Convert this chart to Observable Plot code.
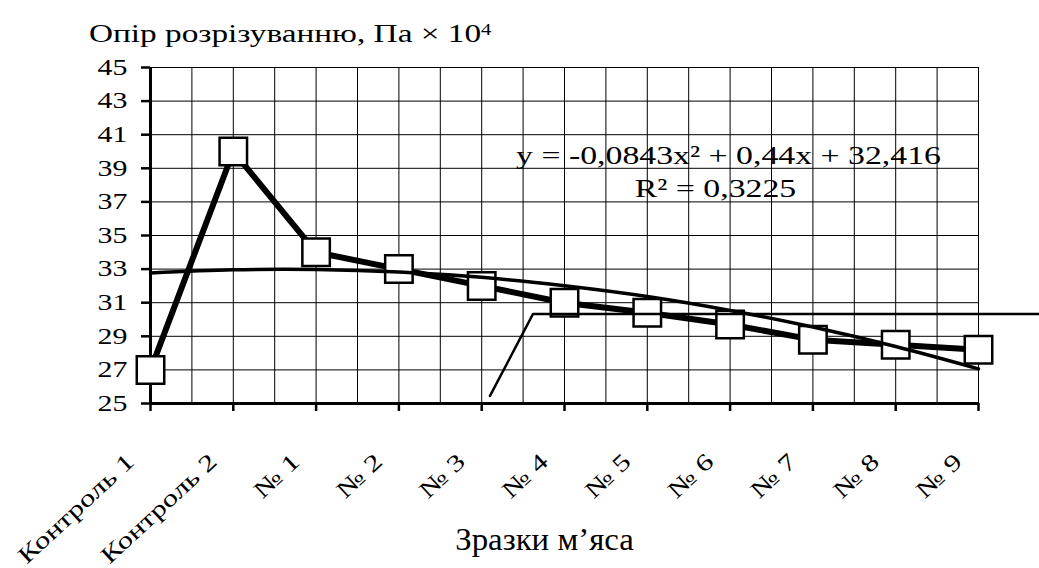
<!DOCTYPE html>
<html><head><meta charset="utf-8">
<script src="https://cdn.jsdelivr.net/npm/d3@7"></script>
<script src="https://cdn.jsdelivr.net/npm/@observablehq/plot@0.6"></script>
<style>
html,body{margin:0;padding:0;background:#fff;}
body{width:1039px;height:568px;overflow:hidden;position:relative;font-family:"Liberation Serif","Times New Roman",serif;color:#000;}
#title{position:absolute;left:89px;top:21px;font-family:"Liberation Serif",serif;font-size:26px;line-height:26px;transform:scaleX(1.28);transform-origin:left top;white-space:nowrap;}
#title sup{font-size:16px;position:relative;top:-4px;vertical-align:top;}
#chart{position:absolute;left:0;top:52px;}
#chart svg{overflow:visible;}
</style></head><body>
<div id="title">Опір розрізуванню, Па × 10<sup>4</sup></div>
<div id="chart"></div>
<script>
// ---- data ----
const categories = ["Контроль 1","Контроль 2","№ 1","№ 2","№ 3","№ 4","№ 5","№ 6","№ 7","№ 8","№ 9"];
const values = [27, 40, 34, 33, 32, 31, 30.4, 29.7, 28.8, 28.5, 28.2];
// polynomial trend line
const trendValues = [32.77, 32.96, 32.98, 32.83, 32.51, 32.01, 31.37, 30.54, 29.55, 28.39, 27.06];
const yTicks = [25, 27, 29, 31, 33, 35, 37, 39, 41, 43, 45];
const equationLine1 = ["y = -0,0843x² + 0,44x + 32,416"];
const equationLine2 = ["R² = 0,3225"];
const xAxisLabel = ["Зразки м’яса"];
// stray leader line drawn on the original chart (category index, value)
const leaderX = [5.1, 5.62, 11.75];
const leaderY = [25.45, 30.33, 30.33];

const series = categories.map((c, i) => ({x: i + 1, cat: c, v: values[i], t: trendValues[i]}));
const leader = leaderX.map((x, i) => ({x, y: leaderY[i]}));
const gridXTicks = d3.range(1, 11.01, 0.5);
const idx = categories.map((_, i) => i + 1);
const serif = "'Liberation Serif','Times New Roman',serif";

const plot = Plot.plot({
  width: 1039, height: 516,
  marginLeft: 150, marginRight: 61, marginTop: 15, marginBottom: 165,
  style: {fontFamily: serif, background: "white", color: "black", overflow: "visible"},
  x: {type: "linear", domain: [1, 11], label: null},
  y: {domain: [25, 45], label: null},
  marks: [
    Plot.gridY(yTicks, {stroke: "black", strokeOpacity: 1, strokeWidth: 1}),
    Plot.gridX(gridXTicks, {stroke: "black", strokeOpacity: 1, strokeWidth: 1}),
    Plot.ruleX([1], {stroke: "black", strokeWidth: 3}),
    Plot.ruleY([25], {stroke: "black", strokeWidth: 3}),
    Plot.axisY(yTicks, {tickSize: 9, tickPadding: 14, fontSize: 23, fontFamily: serif, strokeWidth: 2.5, label: null}),
    Plot.axisX(idx, {tickSize: 8, tickFormat: () => "", strokeWidth: 2.5, label: null}),
    Plot.text(series, {x: "x", text: "cat", frameAnchor: "bottom", rotate: -43, textAnchor: "end", lineAnchor: "bottom", dx: -15, dy: 60, fontSize: 23.5, fontFamily: serif}),
    Plot.text(xAxisLabel, {frameAnchor: "bottom", dx: -20, dy: 146, fontSize: 31, fontFamily: serif}),
    Plot.line(series, {x: "x", y: "v", stroke: "black", strokeWidth: 6, strokeLinejoin: "round"}),
    Plot.dot(series, {x: "x", y: "v", symbol: "square", r: 15.5, fill: "white", stroke: "black", strokeWidth: 2.5}),
    Plot.line(series, {x: "x", y: "t", curve: "catmull-rom", stroke: "black", strokeWidth: 3.5}),
    Plot.line(leader, {x: "x", y: "y", stroke: "black", strokeWidth: 2.5}),
    Plot.text(equationLine1, {frameAnchor: "top-left", dx: 578, dy: 78, textAnchor: "middle", fontSize: 26, fontFamily: serif}),
    Plot.text(equationLine2, {frameAnchor: "top-left", dx: 565, dy: 111, textAnchor: "middle", fontSize: 26, fontFamily: serif})
  ]
});
document.getElementById("chart").appendChild(plot);

// widen glyphs horizontally (the reference uses a wide serif rendering)
const yStr = new Set(yTicks.map(String));
const catStr = new Set(categories);
plot.querySelectorAll("text").forEach(t => {
  const s0 = t.textContent;
  let s = 1;
  if (yStr.has(s0)) s = 1.3;
  else if (catStr.has(s0)) s = 1.32;
  else if (s0 === xAxisLabel[0]) s = 1.06;
  else if (s0 === equationLine1[0] || s0 === equationLine2[0]) s = 1.3;
  if (s === 1) return;
  const x = +t.getAttribute("x") || 0, y = +t.getAttribute("y") || 0;
  const tr = t.getAttribute("transform") || "";
  t.setAttribute("transform", `${tr} translate(${x},${y}) scale(${s},1) translate(${-x},${-y})`);
});
</script>
</body></html>
